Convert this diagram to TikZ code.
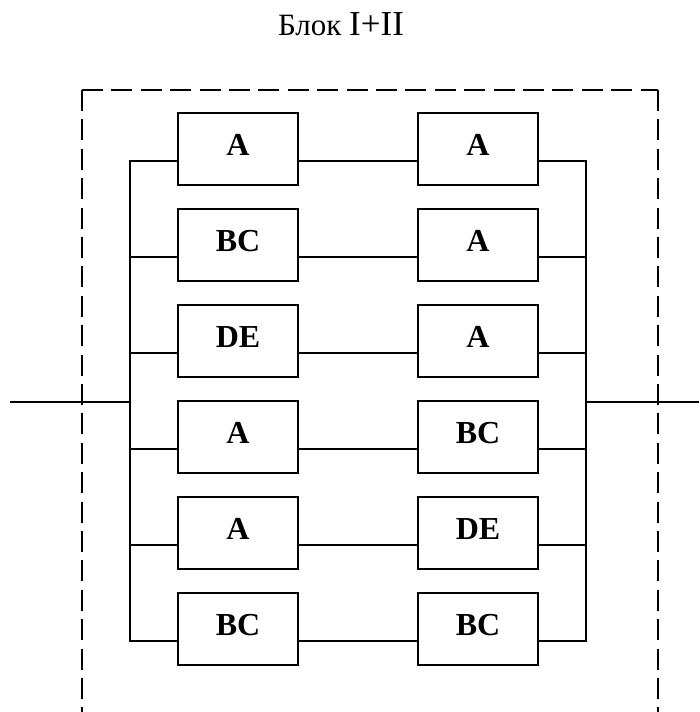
\documentclass[tikz,border=0pt]{standalone}
\usepackage{fontspec}
\setmainfont{Liberation Serif}
\begin{document}
\begin{tikzpicture}[x=1pt,y=-1pt,
  blk/.style={draw, line width=1.9pt, minimum width=120pt, minimum height=72pt,
    inner sep=0pt, font=\fontsize{32}{32}\selectfont\bfseries,
    text height=21pt, text depth=9pt},
  wire/.style={line width=1.8pt},
  framel/.style={line width=2.7pt, dash pattern=on 21pt off 8.4pt}]
\useasboundingbox (0,0) rectangle (699,712);
% title
\node[anchor=base, inner sep=0pt] (title) at (341,35)
  {\fontsize{31}{31}\selectfont Блок \fontsize{35}{35}\selectfont I+II};
% dashed frame (open at the bottom edge)
\coordinate (ftl) at (82,90);
\coordinate (ftr) at (658,90);
\coordinate (fbl) at (82,712);
\coordinate (fbr) at (658,712);
\draw[framel] (ftl) -- (fbl);
\draw[framel] (ftl) -- (ftr);
\draw[framel] (ftr) -- (fbr);
% blocks
\foreach \i/\y/\a/\b in {1/149/A/A, 2/245/BC/A, 3/341/DE/A, 4/437/A/BC, 5/533/A/DE, 6/629/BC/BC}{
  \node[blk] (l\i) at (238,\y) {\a};
  \node[blk] (r\i) at (478,\y) {\b};
  \coordinate (bl\i) at (130,\y+12);
  \coordinate (br\i) at (586,\y+12);
}
% connectors
\foreach \i in {1,...,6}{
  \draw[wire] ([yshift=-12pt]l\i.east) -- ([yshift=-12pt]r\i.west);
}
\foreach \i in {2,...,5}{
  \draw[wire] (bl\i) -- ([yshift=-12pt]l\i.west);
  \draw[wire] ([yshift=-12pt]r\i.east) -- (br\i);
}
\draw[wire] ([yshift=-12pt]l1.west) -- (bl1) -- (bl6) -- ([yshift=-12pt]l6.west);
\draw[wire] ([yshift=-12pt]r1.east) -- (br1) -- (br6) -- ([yshift=-12pt]r6.east);
% input / output
\coordinate (inL) at (10,402);
\coordinate (jL) at (130,402);
\coordinate (jR) at (586,402);
\coordinate (outR) at (699,402);
\draw[wire] (inL) -- (jL);
\draw[wire] (jR) -- (outR);
\end{tikzpicture}
\end{document}
